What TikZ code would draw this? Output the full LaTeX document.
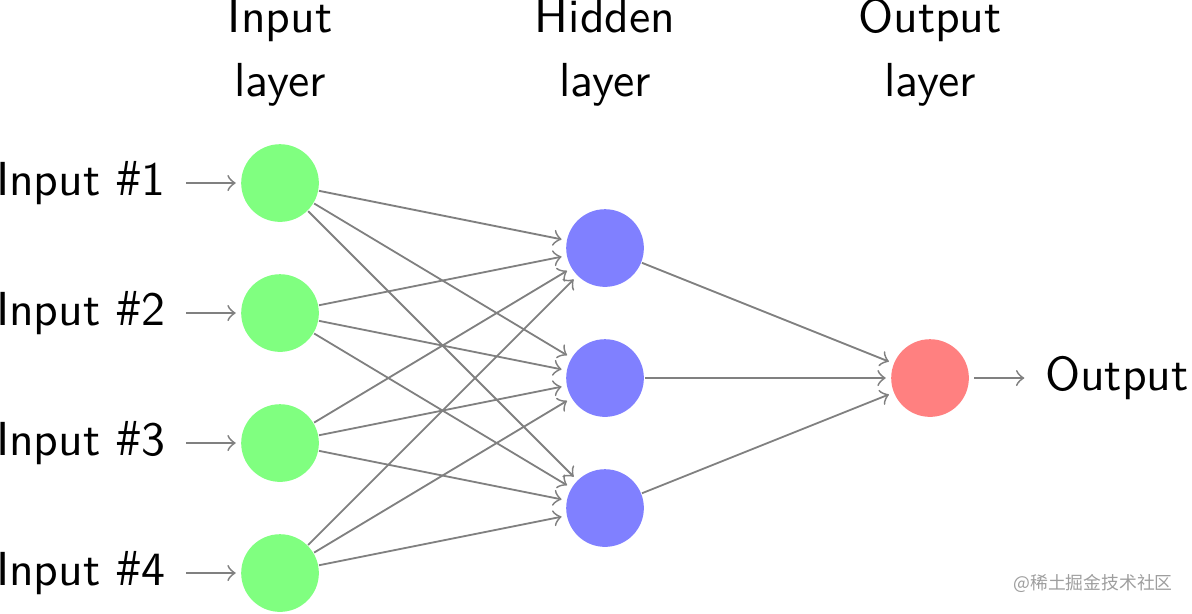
\documentclass[tikz,border=0pt]{standalone}
\usepackage{fix-cm}
\usepackage{graphicx}
\font\cjkwm="Noto Sans CJK SC" at 3.9pt
\font\hashfnt="Open Sans" at 10.45pt
\newcommand{\nhash}{\scalebox{0.8}[1]{\hashfnt\#}}
\begin{document}
\begin{tikzpicture}[shorten >=1pt,->,draw=black!50,font=\fontsize{10.45pt}{12.5pt}\sffamily,
    every pin edge/.style={<-,shorten <=1pt,draw=black!50},
    neuron/.style={circle,fill=black!25,minimum size=17pt,inner sep=0pt},
    input neuron/.style={neuron,fill=green!50},
    output neuron/.style={neuron,fill=red!50},
    hidden neuron/.style={neuron,fill=blue!50},
    annot/.style={anchor=base,inner sep=0pt},
    wm/.style={font=\cjkwm,text=black!38,inner sep=0pt}]
  \useasboundingbox (-2.154,-4.308) rectangle (7.015,0.408);
  % input layer
  \foreach \name / \y in {1,...,4}
    \node[input neuron, pin=left:Input \nhash\y] (I-\name) at (0,-\y) {};
  % hidden layer
  \foreach \name / \y in {1,...,3}
    \node[hidden neuron] (H-\name) at (2.5,-\y-0.5) {};
  % output layer
  \node[output neuron, pin={[pin edge={->}]right:Output}] (O) at (5,-2.5) {};
  % connections
  \foreach \source in {1,...,4}
    \foreach \dest in {1,...,3}
      \path (I-\source) edge (H-\dest);
  \foreach \source in {1,...,3}
    \path (H-\source) edge (O);
  % annotations
  \node[annot] (il1) at (0,0.1615) {Input};
  \node[annot] (il2) at (0,-0.338) {layer};
  \node[annot] (hl1) at (2.5,0.1615) {Hidden};
  \node[annot] (hl2) at (2.5,-0.338) {layer};
  \node[annot] (ol1) at (5,0.1615) {Output};
  \node[annot] (ol2) at (5,-0.338) {layer};
  % watermark
  \node[wm] (wmk) at (6.254,-4.077) {@稀土掘金技术社区};
\end{tikzpicture}
\end{document}
